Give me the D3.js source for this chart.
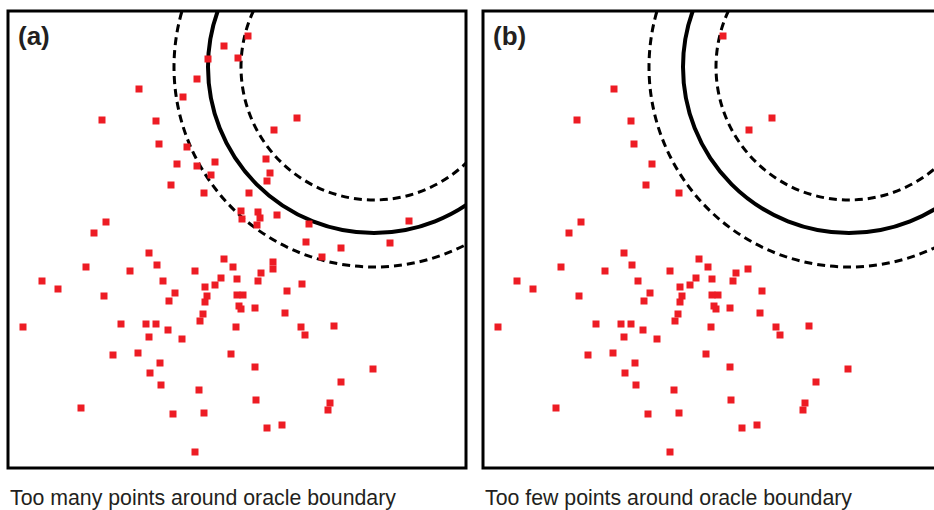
<!DOCTYPE html>
<html>
<head>
<meta charset="utf-8">
<script src="https://cdn.jsdelivr.net/npm/d3@7"></script>
<style>
html,body{margin:0;padding:0;background:#fff;}
svg{display:block;}
</style>
</head>
<body>
<svg id="chart" width="934" height="510"></svg>
<script>
// ---- data (panel units: x 0..458 left->right, y 0..457 top->bottom) ----
const panelLabels = ["(a)", "(b)"];
const captions = ["Too many points around oracle boundary", "Too few points around oracle boundary"];
const circleCenter = [366, 56];
const innerDashedRadius = 133;
const oracleRadius = 166;
const outerDashedRadius = 200;

const pointsA = [
  [240,25],[216,35],[200,48],[230,47],[189,68],[131,78],[175,86],[289,107],[94,109],[148,110],
  [266,119],[151,133],[179,136],[258,148],[207,151],[169,153],[189,155],[262,162],[203,164],[259,170],
  [163,174],[196,182],[241,182],[233,200],[234,208],[250,201],[252,207],[249,214],[269,204],[301,213],
  [98,211],[401,210],[86,222],[298,231],[333,237],[382,232],[141,242],[314,246],[216,248],[149,254],
  [265,251],[78,256],[122,260],[187,260],[225,256],[265,258],[253,262],[34,270],[155,270],[213,267],
  [229,268],[250,270],[50,278],[207,274],[197,276],[294,273],[167,282],[279,280],[96,285],[199,285],
  [229,284],[235,284],[161,290],[197,291],[231,295],[233,298],[247,297],[277,302],[195,303],[192,310],
  [15,316],[113,313],[138,313],[148,313],[228,316],[293,316],[326,315],[160,319],[297,324],[141,326],
  [174,328],[130,342],[105,344],[223,343],[152,352],[247,356],[365,358],[142,362],[333,371],[153,374],
  [191,379],[248,389],[322,392],[320,399],[73,397],[165,403],[196,402],[274,414],[259,417],[187,441]
];

const pointsB = [
  [240,25],[131,78],[289,107],[94,109],[148,110],
  [266,119],[151,133],[169,153],
  [163,174],[196,182],
  [98,211],[86,222],[141,242],[216,248],[149,254],
  [78,256],[122,260],[187,260],[225,256],[265,258],[253,262],[34,270],[155,270],[213,267],
  [229,268],[250,270],[50,278],[207,274],[197,276],[167,282],[279,280],[96,285],[199,285],
  [229,284],[235,284],[161,290],[197,291],[231,295],[233,298],[247,297],[277,302],[195,303],[192,310],
  [15,316],[113,313],[138,313],[148,313],[228,316],[293,316],[326,315],[160,319],[297,324],[141,326],
  [174,328],[130,342],[105,344],[223,343],[152,352],[247,356],[365,358],[142,362],[333,371],[153,374],
  [191,379],[248,389],[322,392],[320,399],[73,397],[165,403],[196,402],[274,414],[259,417],[187,441]
];

const panels = [
  {label: panelLabels[0], caption: captions[0], points: pointsA, left: 8},
  {label: panelLabels[1], caption: captions[1], points: pointsB, left: 483}
];

// ---- drawing ----
const svg = d3.select("#chart");
const W = 458, H = 457, panelTop = 11;
const x = d3.scaleLinear().domain([0, 458]).range([0, W]);
const y = d3.scaleLinear().domain([0, 457]).range([0, H]);
const sq = 7;
const red = "#ed1c24";

panels.forEach((p, i) => {
  const g = svg.append("g").attr("transform", `translate(${p.left},${panelTop})`);
  const clipId = "clip" + i;
  g.append("clipPath").attr("id", clipId)
    .append("rect").attr("x", 0).attr("y", 0).attr("width", W).attr("height", H);

  const inner = g.append("g").attr("clip-path", `url(#${clipId})`);
  const cx = x(circleCenter[0]), cy = y(circleCenter[1]);
  const rad = r => x(circleCenter[0] + r) - x(circleCenter[0]);

  inner.append("circle").attr("cx", cx).attr("cy", cy).attr("r", rad(outerDashedRadius))
    .attr("fill", "none").attr("stroke", "#000").attr("stroke-width", 3).attr("stroke-dasharray", "8,5");
  inner.append("circle").attr("cx", cx).attr("cy", cy).attr("r", rad(innerDashedRadius))
    .attr("fill", "none").attr("stroke", "#000").attr("stroke-width", 3).attr("stroke-dasharray", "8,5");
  inner.append("circle").attr("cx", cx).attr("cy", cy).attr("r", rad(oracleRadius))
    .attr("fill", "none").attr("stroke", "#000").attr("stroke-width", 4);

  inner.selectAll("rect.pt").data(p.points).enter().append("rect")
    .attr("class", "pt")
    .attr("x", d => x(d[0]) - sq / 2)
    .attr("y", d => y(d[1]) - sq / 2)
    .attr("width", sq).attr("height", sq)
    .attr("fill", red);

  g.append("rect").attr("x", 0).attr("y", 0).attr("width", W).attr("height", H)
    .attr("fill", "none").attr("stroke", "#000").attr("stroke-width", 3);

  g.append("text").attr("x", 10).attr("y", 34)
    .attr("font-family", "Liberation Sans, Arial, sans-serif")
    .attr("font-weight", "bold").attr("font-size", 26).attr("fill", "#231f20")
    .text(p.label);

  svg.append("text").attr("x", p.left + 2).attr("y", 505)
    .attr("font-family", "Liberation Sans, Arial, sans-serif")
    .attr("font-size", 21.3).attr("fill", "#231f20")
    .text(p.caption);
});
</script>
</body>
</html>
